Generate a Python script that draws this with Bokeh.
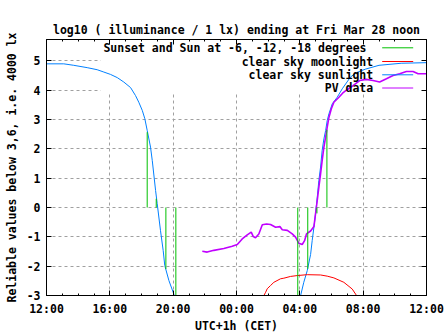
import numpy as np
from bokeh.plotting import figure
from bokeh.models import LinearAxis, FixedTicker, Label, BoxAnnotation
from bokeh.embed import file_html
from bokeh.resources import INLINE

# ---------------- data (hours after Thu 12:00 CET, log10 lux) ----------------
x_ticks = [0, 4, 8, 12, 16, 20, 24]
x_minor = [h for h in range(25) if h % 4 != 0]
x_tick_labels = ["12:00", "16:00", "20:00", "00:00", "04:00", "08:00", "12:00"]
y_ticks = [-3, -2, -1, 0, 1, 2, 3, 4, 5]
y_tick_labels = ["-3", "-2", "-1", "0", "1", "2", "3", "4", "5"]

sun_eve_t = [0.0, 1.09, 1.72, 2.57, 3.2, 3.62, 4.04, 4.47, 4.88, 5.31, 5.62, 5.83,
             6.05, 6.21, 6.36, 6.57, 6.68, 6.89, 6.99, 7.2, 7.37, 7.47, 7.73, 8.04, 8.2]
sun_eve_v = [4.90, 4.90, 4.85, 4.77, 4.70, 4.62, 4.54, 4.43, 4.28, 4.09, 3.82, 3.59,
             3.31, 3.03, 2.63, 2.06, 1.6, 0.58, 0.14, -0.79, -1.47, -1.98, -2.49, -2.95, -3.3]

sun_morn_t = [15.9, 16.05, 16.25, 16.47, 16.68, 16.78, 16.89, 16.99, 17.1, 17.2, 17.31,
              17.41, 17.52, 17.63, 17.73, 17.84, 18.05, 18.36, 18.68, 19.2, 19.57,
              20.15, 21.0, 22.4, 24.0]
sun_morn_v = [-3.4, -3.0, -2.55, -2.15, -1.6, -1.13, -0.67, -0.22, 0.35, 0.92, 1.38,
              1.95, 2.34, 2.63, 2.97, 3.2, 3.54, 3.76, 4.05, 4.45, 4.6,
              4.72, 4.85, 4.92, 4.94]

moon_t = [13.6, 13.73, 13.84, 13.94, 14.15, 14.36, 14.78, 14.99, 15.41, 15.84, 16.47,
          17.31, 17.73, 18.15, 18.78, 19.31, 19.58, 19.7]
moon_v = [-3.2, -3.0, -2.89, -2.77, -2.66, -2.55, -2.43, -2.41, -2.35, -2.32, -2.29,
          -2.3, -2.34, -2.4, -2.55, -2.78, -3.0, -3.2]

pv_t = [9.84, 10.15, 10.57, 11.2, 11.73, 12.05, 12.36, 12.68, 12.93, 13.06, 13.2,
        13.41, 13.63, 13.9, 14.15, 14.47, 14.74, 14.89, 15.21, 15.52, 15.73, 15.94,
        16.15, 16.3, 16.42, 16.68, 16.89, 16.99, 17.1, 17.2, 17.31, 17.41, 17.52,
        17.63, 17.73, 17.84, 17.99, 18.15, 18.47, 18.7, 18.94, 19.36, 19.78, 20.2,
        20.62, 21.04, 21.47, 21.89, 22.31, 22.73, 23.15, 23.47, 24.0]
pv_v = [-1.49, -1.52, -1.46, -1.40, -1.32, -1.26, -1.07, -0.93, -0.84, -0.99, -1.03,
        -0.90, -0.59, -0.56, -0.58, -0.67, -0.65, -0.76, -0.78, -0.90, -1.01, -1.22,
        -1.26, -1.13, -0.90, -0.80, -0.65, -0.22, 0.24, 0.69, 1.15, 1.6, 2.06,
        2.4, 2.74, 3.08, 3.37, 3.59, 3.76, 3.9, 4.0, 4.16, 4.33, 4.37,
        4.33, 4.28, 4.39, 4.5, 4.56, 4.64, 4.64, 4.56, 4.56]

# sunset / sun at -6, -12, -18 degrees (evening) and reverse (morning)
twilight_t = [6.36, 6.93, 7.54, 8.17, 15.87, 16.5, 17.08, 17.71]
twilight_v = [2.57, 0.3, -2.1, -3.3, -3.3, -2.09, -0.2, 2.65]

legend_labels = ["Sunset and Sun at -6, -12, -18 degrees", "clear sky moonlight",
                 "clear sky sunlight", "PV data"]
title_text = "log10 ( illuminance / 1 lx) ending at Fri Mar 28 noon"
x_label = "UTC+1h (CET)"
y_label = "Reliable values below 3,6, i.e. 4000 lx"

GREEN, RED, BLUE, PURPLE = "#00c000", "#ff0000", "#0080ff", "#c000ff"
FONT = "DejaVu Sans Mono"
FS = "11.5px"

X0, X1, Y0, Y1 = 0, 24, -3, 5.73
FL, FR, FT, FB = 46, 426, 39, 295  # frame edges in canvas px

p = figure(frame_width=FR - FL, frame_height=FB - FT,
           x_range=(X0, X1), y_range=(Y0, Y1),
           output_backend="svg", toolbar_location=None,
           min_border_left=FL, min_border_right=447 - FR,
           min_border_top=FT, min_border_bottom=335 - FB,
           x_axis_location=None, y_axis_location=None)
p.background_fill_color = "white"
p.border_fill_color = "white"
p.outline_line_color = "black"
p.outline_line_width = 1

p.title.text = title_text
p.title.align = "center"
p.title.text_font = FONT
p.title.text_font_style = "bold"
p.title.text_font_size = FS
p.title.text_color = "black"
p.title.standoff = 6


def make_axis(ticks, minor, labels, show):
    ax = LinearAxis(ticker=FixedTicker(ticks=ticks, minor_ticks=minor))
    if show:
        ax.major_label_overrides = {t: l for t, l in zip(ticks, labels)}
        ax.major_label_text_font_size = FS
    else:
        ax.major_label_overrides = {t: "" for t in ticks}
        ax.major_label_standoff = 0
        ax.major_label_text_font_size = "1px"
    ax.major_tick_in = 5
    ax.major_tick_out = 0
    ax.minor_tick_in = 2
    ax.minor_tick_out = 0
    ax.axis_line_color = "black"
    ax.major_tick_line_color = "black"
    ax.minor_tick_line_color = "black"
    ax.major_label_text_font = FONT
    ax.major_label_text_font_style = "bold"
    ax.major_label_text_color = "black"
    ax.axis_label_text_font = FONT
    ax.axis_label_text_font_style = "bold"
    ax.axis_label_text_font_size = FS
    ax.axis_label_text_color = "black"
    return ax


bx = make_axis(x_ticks, x_minor, x_tick_labels, True)
bx.major_label_standoff = 6
bx.axis_label = x_label
bx.axis_label_standoff = 0
p.add_layout(bx, "below")
p.add_layout(make_axis(x_ticks, x_minor, x_tick_labels, False), "above")
ly = make_axis(y_ticks, [], y_tick_labels, True)
ly.major_label_standoff = 6
ly.axis_label = y_label
ly.axis_label_standoff = 5
p.add_layout(ly, "left")
p.add_layout(make_axis(y_ticks, [], y_tick_labels, False), "right")

p.xgrid.ticker = FixedTicker(ticks=x_ticks)
p.ygrid.ticker = FixedTicker(ticks=y_ticks)
for g in (p.xgrid, p.ygrid):
    g.grid_line_color = "#a0a0a0"
    g.grid_line_dash = "3 3"
    g.grid_line_width = 1


def sx(cx):
    return X0 + (cx - FL) / (FR - FL) * (X1 - X0)


def sy(cy):
    return Y0 + (FB - cy) / (FB - FT) * (Y1 - Y0)


# key box hides the grid behind it (as gnuplot does)
p.add_layout(BoxAnnotation(left=sx(100), right=X1, bottom=sy(92), top=Y1,
                           fill_color="white", fill_alpha=1.0, line_color=None,
                           level="underlay"))

p.line(sun_eve_t, sun_eve_v, line_color=BLUE, line_width=1)
p.line(sun_morn_t, sun_morn_v, line_color=BLUE, line_width=1)
p.line(moon_t, moon_v, line_color=RED, line_width=1)
p.line(pv_t, pv_v, line_color=PURPLE, line_width=1.6)
p.segment(x0=twilight_t, y0=[0] * len(twilight_t), x1=twilight_t, y1=twilight_v,
          line_color=GREEN, line_width=1)

# manual gnuplot-style key: right-aligned text, sample line to the right
rows_cy = [47.3, 61, 74.3, 87.5]
text_right = [366, 372.7, 372.7, 372.7]
colors = [GREEN, RED, BLUE, PURPLE]
for lab, cy, cxr, col in zip(legend_labels, rows_cy, text_right, colors):
    p.add_layout(Label(x=cxr - FL, y=FB - cy, x_units="screen", y_units="screen",
                       text=lab, text_align="right", text_baseline="middle",
                       text_font=FONT, text_font_style="bold", text_font_size=FS,
                       text_color="black"))
    p.segment(x0=[sx(381.7)], y0=[sy(cy)], x1=[sx(412.7)], y1=[sy(cy)],
              line_color=col, line_width=1)

open("out.html", "w").write(file_html(p, INLINE))
